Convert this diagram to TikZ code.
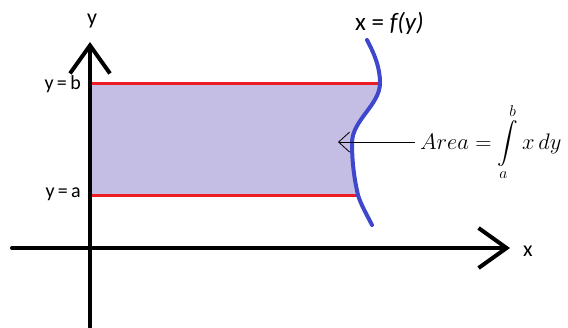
\RequirePackage{fix-cm}
\documentclass[tikz,border=0pt]{standalone}
\usepackage{amsmath}
\usepackage{fontspec}
\setmainfont{Carlito}
\usetikzlibrary{arrows.meta}
\definecolor{PaintRed}{HTML}{ED1C24}
\definecolor{PaintIndigo}{HTML}{3F48CC}
\definecolor{PaintLavender}{HTML}{C4BDE4}

\begin{document}
\begin{tikzpicture}[
    x=1pt, y=-1pt,
    axis/.style={line width=4pt, line cap=round, -{Straight Barb[length=28pt, width=40pt, line width=4pt]}},
    bound/.style={line width=3pt, PaintRed},
    lbl/.style={font=\fontsize{#1}{#1}\selectfont, inner sep=0pt},
    pointer/.style={line width=0.8pt, -{Straight Barb[length=11pt, width=20pt, line width=0.8pt]}}
]
    \useasboundingbox (0,0) rectangle (568,327);

    % Shaded area between y = a and y = b
    \fill[PaintLavender] (90,83) -- (380,83)
        .. controls (380,105) and (352,120) .. (352,143)
        .. controls (352,165) and (355,182) .. (358,195)
        -- (90,195) -- cycle;

    % Bounds
    \coordinate (b0) at (90,83);
    \coordinate (b1) at (380,83);
    \coordinate (a0) at (90,195);
    \coordinate (a1) at (358,195);
    \draw[bound] (b0) -- (b1);
    \draw[bound] (a0) -- (a1);

    % Curve x = f(y)
    \draw[line width=4pt, line cap=round, PaintIndigo] (367,40)
        .. controls (375,55) and (380,68) .. (b1)
        .. controls (380,105) and (352,120) .. (352,143)
        .. controls (352,165) and (355,182) .. (a1)
        .. controls (361,205) and (367,215) .. (372,225);

    % Axes
    \coordinate (ybot) at (90,327);
    \coordinate (ytop) at (90,42);
    \coordinate (xleft) at (12,248);
    \coordinate (xright) at (510,248);
    \draw[axis] (ybot) -- (ytop);
    \draw[axis] (xleft) -- (xright);

    % Labels
    \node[lbl=22] (ylabel) at (92,21) {y};
    \node[lbl=22] (xlabel) at (528,251) {x};
    \node[lbl=20, anchor=east] (blabel) at (81,84) {y\,=\,b};
    \node[lbl=20, anchor=east] (alabel) at (81,194) {y\,=\,a};
    \node[lbl=25, anchor=base west] (curvelabel) at (355,30) {x = \textit{f(y)}};

    % Area formula
    \node[lbl=22.5, anchor=base west] (area) at (420,149)
        {$Area = \displaystyle\int\limits_a^b x\,dy$};
    \coordinate (areatip) at (338,143);
    \draw[pointer] ([xshift=-5pt]area.west) -- (area.west -| areatip);
\end{tikzpicture}
\end{document}
